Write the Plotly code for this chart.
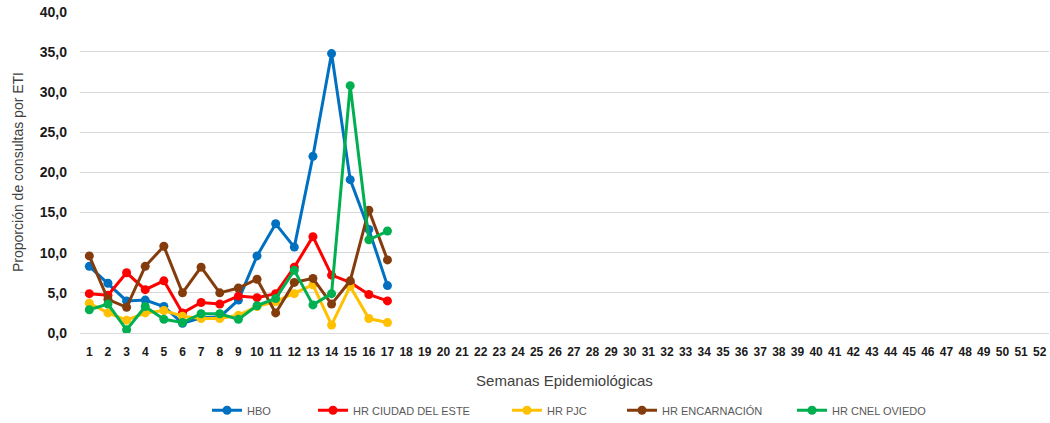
import plotly.graph_objects as go

# Semanas epidemiológicas 1-52 (datos hasta la semana 17)
weeks = list(range(1, 18))
week_ticks = list(range(1, 53))

hbo = [8.3, 6.2, 4.0, 4.1, 3.3, 1.2, 1.9, 2.0, 4.1, 9.6, 13.6, 10.7, 22.0, 34.8, 19.1, 12.9, 5.9]
ciudad_del_este = [4.9, 4.7, 7.5, 5.4, 6.5, 2.5, 3.8, 3.6, 4.6, 4.4, 4.9, 8.2, 12.0, 7.2, 6.3, 4.8, 4.0]
pjc = [3.7, 2.5, 1.6, 2.5, 2.8, 2.1, 1.8, 1.8, 2.2, 3.3, 3.9, 4.9, 6.0, 1.0, 5.8, 1.8, 1.3]
encarnacion = [9.6, 4.2, 3.2, 8.3, 10.8, 5.0, 8.2, 5.0, 5.6, 6.7, 2.5, 6.3, 6.8, 3.6, 6.5, 15.3, 9.1]
cnel_oviedo = [2.9, 3.6, 0.4, 3.3, 1.7, 1.3, 2.4, 2.4, 1.7, 3.4, 4.3, 7.8, 3.5, 4.9, 30.8, 11.6, 12.7]
y_ticks = [0, 5, 10, 15, 20, 25, 30, 35, 40]

series = [
    ("HBO", hbo, "#0070C0"),
    ("HR CIUDAD DEL ESTE", ciudad_del_este, "#FF0000"),
    ("HR PJC", pjc, "#FFC000"),
    ("HR ENCARNACIÓN", encarnacion, "#843C0C"),
    ("HR CNEL OVIEDO", cnel_oviedo, "#00B050"),
]

# one legend per series so the entries sit where the original has them
legend_px = [207, 313, 507, 622, 792]
plot_left, plot_width = 80, 969

fig = go.Figure()
for i, (name, values, color) in enumerate(series):
    legend_id = "legend" if i == 0 else "legend%d" % (i + 1)
    fig.add_trace(go.Scatter(x=weeks, y=values, name=name, mode="lines+markers",
                             line=dict(color=color, width=3),
                             marker=dict(color=color, size=9),
                             legend=legend_id))
    fig.update_layout({legend_id: dict(
        orientation="h", x=(legend_px[i] - plot_left) / plot_width, xanchor="left",
        y=-0.24, yanchor="middle", font=dict(size=11, color="#595959"),
        bgcolor="rgba(0,0,0,0)")})

fig.update_layout(
    width=1050, height=423,
    margin=dict(l=80, r=1, t=11, b=90, autoexpand=False),
    paper_bgcolor="white", plot_bgcolor="white",
    separators=",.",
    font=dict(family="Liberation Sans", color="#262626"),
    showlegend=True,
)
fig.update_xaxes(range=[0.5, 52.5], tickvals=week_ticks, ticktext=[str(w) for w in week_ticks],
                 tickfont=dict(size=12, color="#1a1a1a", weight="bold"), showgrid=False,
                 zeroline=False, ticks="", ticklabelstandoff=10, automargin=False,
                 title=dict(text="Semanas Epidemiológicas", font=dict(size=15, color="#404040"),
                            standoff=17))
fig.update_yaxes(range=[0, 40.1], tickvals=y_ticks, tickformat=".1f",
                 showgrid=True, gridcolor="#D9D9D9",
                 gridwidth=1, zeroline=True, zerolinecolor="#D9D9D9", zerolinewidth=1,
                 tickfont=dict(size=14, color="#1a1a1a", weight="bold"), ticklabelstandoff=12,
                 automargin=False, ticklabeloverflow="allow",
                 title=dict(text="Proporción de consultas por ETI", font=dict(size=14, color="#404040"),
                            standoff=12))

# drop the default 8px page margin so the figure fills the window exactly
fig.write_html("out.html", config={"displayModeBar": False},
               post_script="document.body.style.margin = '0';")
